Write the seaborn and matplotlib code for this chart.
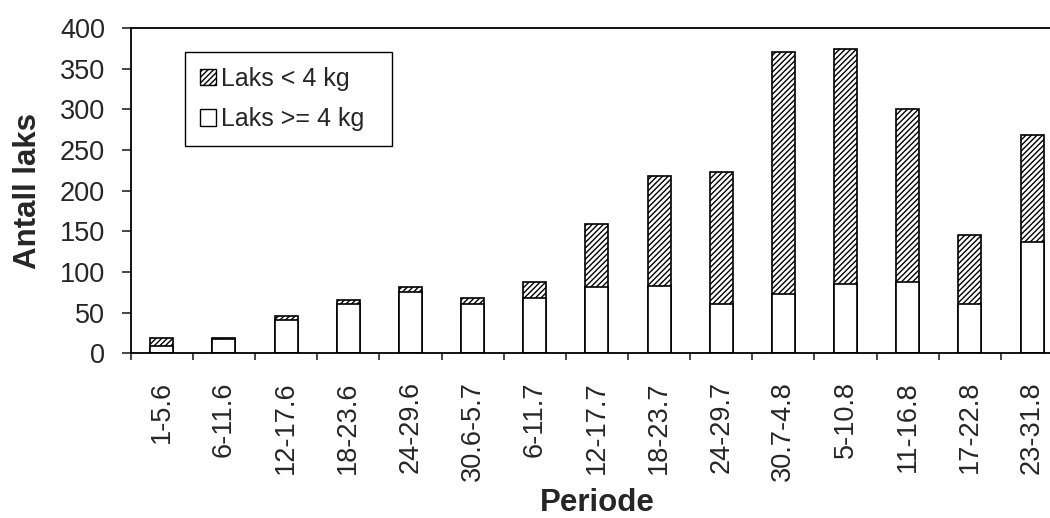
import numpy as np
import pandas as pd
import matplotlib
matplotlib.use("Agg")
import matplotlib.pyplot as plt
from matplotlib.patches import Patch
import seaborn as sns

# data
periods = ["1-5.6", "6-11.6", "12-17.6", "18-23.6", "24-29.6", "30.6-5.7", "6-11.7",
           "12-17.7", "18-23.7", "24-29.7", "30.7-4.8", "5-10.8", "11-16.8", "17-22.8", "23-31.8"]
laks_stor = [9, 17, 41, 61, 75, 61, 68, 81, 83, 61, 73, 85, 88, 61, 137]      # Laks >= 4 kg
laks_liten = [10, 2, 5, 5, 6, 7, 20, 78, 135, 162, 298, 289, 212, 84, 131]    # Laks < 4 kg
yticks = [0, 50, 100, 150, 200, 250, 300, 350, 400]

df = pd.DataFrame({"Periode": periods, "stor": laks_stor, "liten": laks_liten})
df["total"] = df["stor"] + df["liten"]

sns.set_style("ticks")
plt.rcParams["font.family"] = ["Liberation Sans", "DejaVu Sans"]
plt.rcParams["hatch.linewidth"] = 1.0
plt.rcParams["hatch.color"] = "black"

fig = plt.figure(figsize=(10.5, 5.18), dpi=100)
ax = fig.add_axes([0.1245, 0.318, 0.888, 0.628])

bar_w = 0.37
# stacked bars: full height hatched, lower part white on top
sns.barplot(data=df, x="Periode", y="total", color="white", edgecolor="black",
            linewidth=1.2, width=bar_w, hatch="//////", saturation=1, ax=ax)
sns.barplot(data=df, x="Periode", y="stor", color="white", edgecolor="black",
            linewidth=1.2, width=bar_w, saturation=1, ax=ax)

ax.set_ylim(0, 400)
ax.set_xlim(-0.5, len(periods) - 0.5)
ax.set_yticks(yticks)
ax.tick_params(axis="y", labelsize=19.5, length=6.5, width=1.2, pad=12, direction="out")
ax.tick_params(axis="x", which="major", labelsize=19.5, length=0, pad=20, labelrotation=90)
ax.set_xticks(np.arange(-0.5, len(periods), 1.0), minor=True)
ax.tick_params(axis="x", which="minor", length=5, width=1.2, direction="out")

ax.set_xlabel("Periode", fontsize=22.5, fontweight="bold", labelpad=5)
ax.set_ylabel("Antall laks", fontsize=22.5, fontweight="bold", labelpad=12)

for s in ["left", "bottom", "top"]:
    ax.spines[s].set_linewidth(1.3)
    ax.spines[s].set_color("black")
ax.spines["right"].set_visible(False)

handles = [Patch(facecolor="white", edgecolor="black", hatch="//////", label="Laks < 4 kg"),
           Patch(facecolor="white", edgecolor="black", label="Laks >= 4 kg")]
leg = ax.legend(handles=handles, loc="upper left", bbox_to_anchor=(0.058, 0.5, 0.222, 0.427),
                mode="expand", fontsize=18, frameon=True, fancybox=False, framealpha=1,
                handlelength=0.65, handleheight=0.65, handletextpad=0.2,
                labelspacing=0.65, borderpad=0.6, borderaxespad=0)
leg.get_frame().set_edgecolor("black")
leg.get_frame().set_linewidth(1.0)

fig.savefig("out.png", dpi=100)
